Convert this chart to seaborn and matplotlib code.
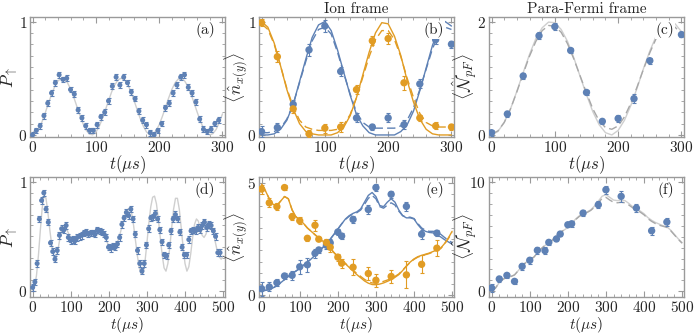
import numpy as np
import matplotlib
matplotlib.use("Agg")
import matplotlib.pyplot as plt
import seaborn as sns
from matplotlib.ticker import MultipleLocator, FixedLocator

# ==========================================================
# Data
# ==========================================================

BLUE = "#5E81B5"
ORANGE = "#E19C24"
GRAY = "#CFCFCF"
DGRAY = "#A8A8A8"

# (a) P_up, short time, sampled every 6 us
t_a = np.arange(0, 300, 6)
p_a = [0.00, 0.04, 0.08, 0.17, 0.28, 0.37, 0.46, 0.53, 0.49, 0.50,
       0.40, 0.36, 0.22, 0.15, 0.08, 0.04, 0.04, 0.09, 0.16, 0.20,
       0.30, 0.43, 0.51, 0.44, 0.51, 0.46, 0.38, 0.32, 0.21, 0.13,
       0.09, 0.02, 0.00, 0.04, 0.10, 0.24, 0.28, 0.37, 0.44, 0.51,
       0.53, 0.42, 0.37, 0.29, 0.14, 0.05, 0.03, 0.05, 0.10, 0.13]
err_a = 0.025
tc_a = np.arange(0, 301, 5)
curve_a = [0.000, 0.014, 0.054, 0.117, 0.194, 0.277, 0.358, 0.426, 0.475, 0.498,
           0.494, 0.463, 0.407, 0.335, 0.252, 0.170, 0.097, 0.040, 0.007, 0.001,
           0.024, 0.071, 0.139, 0.219, 0.302, 0.380, 0.443, 0.485, 0.500, 0.488,
           0.449, 0.387, 0.310, 0.227, 0.146, 0.077, 0.027, 0.002, 0.005, 0.035,
           0.090, 0.162, 0.244, 0.326, 0.401, 0.458, 0.492, 0.499, 0.478, 0.432,
           0.365, 0.286, 0.202, 0.124, 0.060, 0.017, 0.000, 0.012, 0.049, 0.110,
           0.186]

# (b) ion frame, (c) para-Fermi frame, short time
t_b = np.arange(0, 301, 25)
nx_b = [0.03, 0.065, 0.27, 0.75, 0.96, 0.56, 0.15, 0.07, 0.15, 0.09, 0.45, 0.84, 0.80]
nx_b_err = [0.05, 0.04, 0.04, 0.05, 0.05, 0.04, 0.04, 0.03, 0.04, 0.04, 0.04, 0.04, 0.03]
ny_b = [0.99, 0.69, 0.23, 0.01, 0.06, 0.07, 0.40, 0.83, 0.85, 0.46, 0.15, 0.08, 0.07]
ny_b_err = [0.03, 0.05, 0.04, 0.03, 0.04, 0.04, 0.04, 0.04, 0.05, 0.06, 0.03, 0.03, 0.03]
N_c = [0.04, 0.37, 1.04, 1.75, 1.91, 1.49, 0.75, 0.24, 0.29, 0.64, 1.31, 1.85, 1.77]
N_c_err = [0.05, 0.06, 0.05, 0.06, 0.06, 0.05, 0.05, 0.05, 0.06, 0.08, 0.05, 0.05, 0.05]

tc_b = np.arange(0, 301, 10)
nx_b_fit = [0.00, 0.00, 0.01, 0.05, 0.13, 0.27, 0.47, 0.67, 0.86, 0.97,
            1.00, 0.92, 0.75, 0.55, 0.35, 0.18, 0.08, 0.02, 0.00, 0.00,
            0.00, 0.00, 0.03, 0.09, 0.21, 0.39, 0.59, 0.79, 0.94, 1.00, 0.96]
nx_b_dash = [0.02, 0.02, 0.03, 0.06, 0.14, 0.27, 0.46, 0.65, 0.83, 0.93,
             0.95, 0.89, 0.73, 0.54, 0.36, 0.20, 0.11, 0.07, 0.06, 0.06,
             0.06, 0.06, 0.08, 0.13, 0.24, 0.40, 0.58, 0.76, 0.89, 0.95, 0.93]
ny_b_fit = [1.00, 0.95, 0.81, 0.61, 0.40, 0.23, 0.10, 0.03, 0.01, 0.00,
            0.00, 0.00, 0.02, 0.07, 0.17, 0.33, 0.53, 0.73, 0.90, 0.99,
            0.98, 0.87, 0.70, 0.48, 0.29, 0.14, 0.05, 0.01, 0.00, 0.00, 0.00]
ny_b_dash = [0.98, 0.93, 0.80, 0.61, 0.41, 0.25, 0.13, 0.07, 0.05, 0.04,
             0.04, 0.04, 0.05, 0.09, 0.18, 0.33, 0.51, 0.69, 0.84, 0.92,
             0.92, 0.84, 0.69, 0.50, 0.33, 0.19, 0.11, 0.08, 0.07, 0.07, 0.07]
N_c_fit = [0.00, 0.06, 0.22, 0.46, 0.77, 1.10, 1.42, 1.70, 1.89, 1.99,
           1.98, 1.86, 1.65, 1.36, 1.03, 0.71, 0.41, 0.18, 0.04, 0.00,
           0.08, 0.26, 0.52, 0.83, 1.17, 1.48, 1.74, 1.92, 2.00, 1.96, 1.82]
N_c_dash = [0.02, 0.07, 0.22, 0.46, 0.76, 1.08, 1.39, 1.65, 1.84, 1.93,
            1.92, 1.81, 1.61, 1.34, 1.04, 0.74, 0.46, 0.25, 0.13, 0.10,
            0.16, 0.32, 0.56, 0.85, 1.16, 1.45, 1.70, 1.86, 1.93, 1.90, 1.78]

# (d) P_up, long time
p_d = [0.03, 0.08, 0.25, 0.66, 0.83, 0.90, 0.75, 0.63, 0.44, 0.36,
       0.29, 0.37, 0.51, 0.57, 0.56, 0.60, 0.49, 0.46, 0.47, 0.46,
       0.49, 0.50, 0.51, 0.53, 0.54, 0.52, 0.53, 0.53, 0.52, 0.56,
       0.55, 0.54, 0.52, 0.49, 0.40, 0.39, 0.41, 0.40, 0.43, 0.49,
       0.61, 0.67, 0.72, 0.69, 0.75, 0.66, 0.52, 0.37, 0.25, 0.18,
       0.25, 0.42, 0.57, 0.67, 0.68, 0.71, 0.66, 0.56, 0.45, 0.33,
       0.32, 0.42, 0.55, 0.66, 0.70, 0.66, 0.54, 0.40, 0.33, 0.33,
       0.47, 0.55, 0.56, 0.55, 0.58, 0.56, 0.60, 0.63, 0.58, 0.61,
       0.60, 0.55, 0.50, 0.35, 0.35]
t_d = np.linspace(0, 492, len(p_d))
err_d = 0.03
tc_d = np.arange(0, 501, 5)
curve_d = [0.00, 0.04, 0.14, 0.32, 0.55, 0.76, 0.88, 0.85, 0.72, 0.56,
           0.42, 0.33, 0.30, 0.35, 0.45, 0.54, 0.59, 0.59, 0.56, 0.52,
           0.49, 0.48, 0.48, 0.49, 0.50, 0.51, 0.52, 0.53, 0.53, 0.52,
           0.52, 0.52, 0.53, 0.54, 0.55, 0.55, 0.54, 0.52, 0.49, 0.45,
           0.41, 0.39, 0.38, 0.40, 0.43, 0.47, 0.53, 0.60, 0.66, 0.72,
           0.75, 0.76, 0.71, 0.60, 0.46, 0.32, 0.21, 0.15, 0.16, 0.27,
           0.44, 0.62, 0.77, 0.86, 0.87, 0.80, 0.66, 0.49, 0.33, 0.21,
           0.18, 0.25, 0.40, 0.58, 0.75, 0.85, 0.85, 0.75, 0.58, 0.40,
           0.25, 0.18, 0.22, 0.34, 0.49, 0.61, 0.66, 0.64, 0.57, 0.51,
           0.49, 0.52, 0.58, 0.62, 0.60, 0.53, 0.44, 0.36, 0.31, 0.29,
           0.32]

# (e) ion frame, (f) para-Fermi frame, long time
t_e = [0, 20, 40, 60, 80, 100, 120, 140, 150, 170,
       180, 200, 210, 240, 280, 300, 340, 380, 420, 460]
nx_e = [0.29, 0.37, 0.56, 0.86, 0.89, 1.27, 1.36, 1.87, 2.02, 2.23,
        2.34, 2.82, 2.64, 3.38, 3.82, 4.80, 4.50, 3.96, 2.72, 2.77]
nx_e_err = [0.30, 0.20, 0.15, 0.15, 0.20, 0.30, 0.30, 0.20, 0.15, 0.15,
            0.15, 0.15, 0.15, 0.15, 0.20, 0.15, 0.15, 0.20, 0.20, 0.15]
ny_e = [4.73, 4.12, 3.95, 4.80, 3.50, 3.32, 2.54, 3.12, 2.50, 2.35,
        2.14, 1.70, 1.43, 1.25, 0.97, 0.67, 0.84, 0.91, 1.38, 2.10]
ny_e_err = [0.20, 0.20, 0.15, 0.10, 0.15, 0.15, 0.10, 0.25, 0.10, 0.15,
            0.20, 0.15, 0.20, 0.35, 0.30, 0.30, 0.30, 0.60, 0.40, 0.35]
N_f = [0.30, 1.13, 1.46, 0.91, 2.28, 2.84, 3.75, 3.72, 4.48, 4.79,
       5.24, 6.09, 6.18, 7.16, 7.92, 9.29, 8.69, 7.62, 5.54, 6.34]
N_f_err = [0.35, 0.25, 0.25, 0.20, 0.30, 0.30, 0.30, 0.30, 0.20, 0.20,
           0.20, 0.25, 0.25, 0.30, 0.30, 0.35, 0.50, 0.40, 0.35, 0.35]

tc_e = np.arange(0, 501, 10)
nx_e_fit = [0.20, 0.22, 0.26, 0.33, 0.43, 0.56, 0.70, 0.84, 0.97, 1.08,
            1.20, 1.34, 1.48, 1.62, 1.78, 1.95, 2.12, 2.30, 2.50, 2.72,
            2.95, 3.18, 3.40, 3.55, 3.65, 3.72, 3.85, 4.15, 4.45, 4.58,
            4.40, 4.00, 3.95, 4.15, 4.30, 4.15, 3.80, 3.55, 3.45, 3.45,
            3.40, 3.15, 2.95, 2.85, 2.80, 2.78, 2.70, 2.60, 2.48, 2.38, 2.28]
nx_e_dash = [0.20, 0.22, 0.26, 0.33, 0.43, 0.56, 0.70, 0.84, 0.97, 1.08,
             1.20, 1.34, 1.48, 1.62, 1.78, 1.95, 2.12, 2.30, 2.50, 2.72,
             2.95, 3.18, 3.38, 3.52, 3.62, 3.68, 3.80, 4.05, 4.32, 4.45,
             4.30, 3.95, 3.88, 4.02, 4.12, 4.02, 3.75, 3.55, 3.48, 3.48,
             3.42, 3.20, 3.00, 2.90, 2.85, 2.85, 2.82, 2.72, 2.58, 2.45, 2.35]
ny_e_fit = [4.95, 4.65, 4.30, 4.05, 4.00, 4.20, 4.40, 4.30, 3.80, 3.50,
            3.35, 3.20, 3.00, 2.85, 2.70, 2.55, 2.42, 2.28, 2.10, 1.90,
            1.72, 1.55, 1.40, 1.24, 1.08, 0.92, 0.78, 0.64, 0.54, 0.48,
            0.47, 0.50, 0.55, 0.62, 0.70, 0.80, 0.92, 1.10, 1.30, 1.48,
            1.62, 1.72, 1.78, 1.83, 1.88, 1.95, 2.02, 2.10, 2.30, 2.55, 2.85]
ny_e_dash = [4.95, 4.65, 4.30, 4.05, 4.00, 4.20, 4.40, 4.30, 3.80, 3.50,
             3.35, 3.20, 3.00, 2.85, 2.70, 2.55, 2.42, 2.28, 2.10, 1.90,
             1.72, 1.56, 1.42, 1.27, 1.12, 0.97, 0.84, 0.71, 0.61, 0.55,
             0.54, 0.57, 0.62, 0.68, 0.75, 0.84, 0.95, 1.12, 1.30, 1.47,
             1.60, 1.70, 1.76, 1.81, 1.86, 1.93, 2.00, 2.08, 2.28, 2.52, 2.80]
N_f_fit = [0.00, 0.30, 0.80, 1.10, 1.30, 1.35, 1.50, 1.90, 2.30, 2.65,
           2.90, 3.10, 3.50, 3.90, 4.20, 4.40, 4.70, 5.10, 5.40, 5.60,
           5.85, 6.20, 6.60, 6.90, 7.10, 7.25, 7.45, 7.80, 8.25, 8.70,
           8.85, 8.60, 8.35, 8.30, 8.35, 8.30, 8.05, 7.75, 7.55, 7.35,
           7.10, 6.75, 6.50, 6.30, 6.15, 6.00, 5.90, 5.60, 5.20, 4.80, 4.45]
N_f_dash = [0.00, 0.30, 0.80, 1.10, 1.30, 1.35, 1.50, 1.90, 2.30, 2.65,
            2.90, 3.10, 3.50, 3.90, 4.20, 4.40, 4.70, 5.10, 5.40, 5.60,
            5.85, 6.20, 6.55, 6.85, 7.05, 7.20, 7.40, 7.70, 8.10, 8.50,
            8.60, 8.35, 8.15, 8.10, 8.15, 8.10, 7.90, 7.65, 7.45, 7.25,
            7.00, 6.65, 6.40, 6.20, 6.05, 5.95, 5.85, 5.55, 5.15, 4.75, 4.40]

# ==========================================================
# Style
# ==========================================================

sns.set_theme(style="ticks")
plt.rcParams["font.family"] = ["cmr10", "DejaVu Serif"]
plt.rcParams["mathtext.fontset"] = "cm"
plt.rcParams["axes.formatter.use_mathtext"] = True
plt.rcParams["font.size"] = 11

fig = plt.figure(figsize=(6.95, 3.34), dpi=100)

W = 195 / 695
H = 120 / 334
lefts = [30 / 695, 259 / 695, 489 / 695]
bottoms = [1 - 137 / 334, 1 - 297 / 334]

LBL_N = r"$\langle \hat{n}_{x(y)} \rangle$"
LBL_NPF = r"$\langle \hat{\mathcal{N}}_{pF} \rangle$"
LBL_P = r"$P_{\uparrow}$"
LBL_T = r"$t(\mu s)$"


def style_ax(ax, xmax, ylim, yticks, ymin_step, ylabel, tag, ylab_x,
             xsize=12, xpad=-1):
    if xmax == 300:
        ax.set_xlim(-4, 304)
    else:
        ax.set_xlim(-7, 505)
    ax.set_ylim(*ylim)
    ax.xaxis.set_major_locator(MultipleLocator(100))
    ax.xaxis.set_minor_locator(MultipleLocator(20))
    ax.yaxis.set_major_locator(FixedLocator(yticks))
    ax.yaxis.set_minor_locator(MultipleLocator(ymin_step))
    ax.tick_params(which="both", direction="in", top=True, right=True,
                   color="#9A9A9A", labelsize=11, pad=2)
    ax.tick_params(which="major", length=4, width=0.8)
    ax.tick_params(which="minor", length=2, width=0.6)
    for s in ax.spines.values():
        s.set_color("#9A9A9A")
        s.set_linewidth(1.0)
    ax.set_xlabel(LBL_T, fontsize=xsize, labelpad=xpad)
    ax.set_ylabel(ylabel, fontsize=12.5)
    ax.yaxis.set_label_coords(ylab_x, 0.5)
    ax.text(0.95, 0.89, tag, transform=ax.transAxes, ha="right", va="center",
            fontsize=11, zorder=10,
            bbox=dict(facecolor="white", edgecolor="none", pad=0.5))


def points(ax, t, y, err, color, size=28, cap=1.5):
    ax.errorbar(t, y, yerr=err, fmt="none", ecolor=color, elinewidth=0.8,
                capsize=cap, capthick=0.8, zorder=3)
    sns.scatterplot(x=t, y=y, ax=ax, color=color, s=size, edgecolor="none",
                    zorder=4, legend=False)


def curve(ax, t, y, color, dashed=False, lw=1.0):
    sns.lineplot(x=t, y=y, ax=ax, color=color, lw=lw, sort=False,
                 estimator=None, linestyle=(0, (6, 3)) if dashed else "-",
                 zorder=2, legend=False)


# ---------------- (a)
ax = fig.add_axes([lefts[0], bottoms[0], W, H])
curve(ax, tc_a, curve_a, GRAY)
points(ax, t_a, p_a, err_a, BLUE, size=13, cap=1.3)
style_ax(ax, 300, (-0.018, 1.04), [0, 1], 0.1, LBL_P, "(a)", -0.05)

# ---------------- (b)
ax = fig.add_axes([lefts[1], bottoms[0], W, H])
curve(ax, tc_b, nx_b_fit, BLUE)
curve(ax, tc_b, nx_b_dash, BLUE, dashed=True)
curve(ax, tc_b, ny_b_fit, ORANGE)
curve(ax, tc_b, ny_b_dash, ORANGE, dashed=True)
points(ax, t_b, nx_b, nx_b_err, BLUE)
points(ax, t_b, ny_b, ny_b_err, ORANGE)
style_ax(ax, 300, (-0.018, 1.04), [0, 1], 0.1, LBL_N, "(b)", -0.045)
ax.set_title("Ion frame", fontsize=11, pad=3)

# ---------------- (c)
ax = fig.add_axes([lefts[2], bottoms[0], W, H])
curve(ax, tc_b, N_c_fit, GRAY)
curve(ax, tc_b, N_c_dash, DGRAY, dashed=True)
points(ax, t_b, N_c, N_c_err, BLUE)
style_ax(ax, 300, (-0.036, 2.08), [0, 2], 0.2, LBL_NPF, "(c)", -0.045)
ax.set_title("Para-Fermi frame", fontsize=11, pad=3)

# ---------------- (d)
ax = fig.add_axes([lefts[0], bottoms[1], W, H])
curve(ax, tc_d, curve_d, GRAY)
points(ax, t_d, p_d, err_d, BLUE, size=13, cap=1.3)
style_ax(ax, 500, (-0.058, 1.046), [0, 1], 0.1, LBL_P, "(d)", -0.05,
         xsize=11, xpad=0)

# ---------------- (e)
ax = fig.add_axes([lefts[1], bottoms[1], W, H])
curve(ax, tc_e, nx_e_fit, BLUE)
curve(ax, tc_e, nx_e_dash, BLUE, dashed=True)
curve(ax, tc_e, ny_e_fit, ORANGE)
curve(ax, tc_e, ny_e_dash, ORANGE, dashed=True)
points(ax, t_e, nx_e, nx_e_err, BLUE)
points(ax, t_e, ny_e, ny_e_err, ORANGE)
style_ax(ax, 500, (-0.076, 5.27), [0, 5], 0.5, LBL_N, "(e)", -0.045,
         xsize=11, xpad=0)

# ---------------- (f)
ax = fig.add_axes([lefts[2], bottoms[1], W, H])
curve(ax, tc_e, N_f_fit, GRAY)
curve(ax, tc_e, N_f_dash, DGRAY, dashed=True)
points(ax, t_e, N_f, N_f_err, BLUE)
style_ax(ax, 500, (-0.52, 10.46), [0, 10], 1, LBL_NPF, "(f)", -0.045,
         xsize=11, xpad=0)

fig.savefig("out.png", dpi=100)
